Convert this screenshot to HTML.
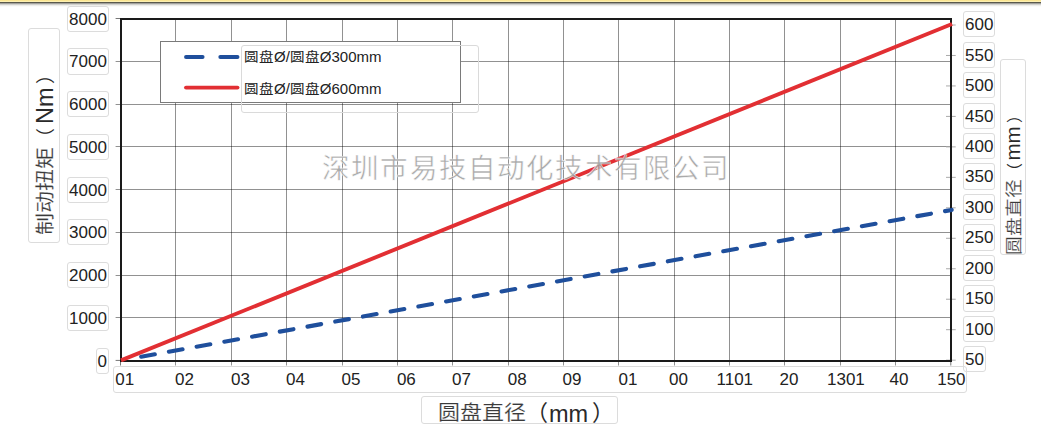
<!DOCTYPE html>
<html lang="zh-CN">
<head>
<meta charset="utf-8">
<style>
html,body{margin:0;padding:0;}
body{width:1041px;height:432px;overflow:hidden;position:relative;background:#fff;font-family:"Liberation Sans",sans-serif;color:#222;}
.topbar{position:absolute;left:0;top:0;width:1041px;height:7px;
background:linear-gradient(to bottom,#fbe38c 0px,#fce896 1px,#fdf0b2 1px,#fdf0b2 2px,#5a594c 2px,#5a594c 3px,#a2a29e 3px,#a2a29e 4px,#d2d2ce 4px,#d2d2ce 5px,#eeeeeb 5px,#eeeeeb 6px,#fbfbfa 6px,#fbfbfa 7px);}
.box{position:absolute;box-sizing:border-box;border:1px solid #dcdcdc;border-radius:3px;}
.lbl{position:absolute;box-sizing:border-box;border:1px solid #dcdcdc;border-radius:3px;height:26.2px;font-size:17px;line-height:25.4px;text-align:center;color:#222;padding:0 0.8px;white-space:nowrap;}
.xt{position:absolute;top:367.3px;font-size:17px;line-height:26px;color:#222;white-space:nowrap;}
svg{position:absolute;left:0;top:0;}
.rot{position:absolute;transform-origin:0 0;transform:rotate(-90deg);white-space:nowrap;}
.wm{position:absolute;white-space:nowrap;}
.cj{-webkit-text-stroke:0.25px rgba(255,255,255,0.8);color:#3a3a3a;}
.cs{display:inline-block;transform:scale(0.97,0.87);transform-origin:30% 55%;}
.legend{position:absolute;left:160px;top:41px;width:301px;height:61.6px;box-sizing:border-box;border:1px solid #7a7a7a;background:#fff;}
.ltxt{position:absolute;left:244px;font-size:15px;line-height:18px;color:#222;white-space:nowrap;}
</style>
</head>
<body>
<div class="topbar"></div>

<svg width="1041" height="432" viewBox="0 0 1041 432">
<g stroke="#000" stroke-opacity="0.43" stroke-width="1">
<line x1="175.5" y1="20" x2="175.5" y2="365.5"/>
<line x1="231.5" y1="20" x2="231.5" y2="365.5"/>
<line x1="286.5" y1="20" x2="286.5" y2="365.5"/>
<line x1="342.5" y1="20" x2="342.5" y2="365.5"/>
<line x1="397.5" y1="20" x2="397.5" y2="365.5"/>
<line x1="452.5" y1="20" x2="452.5" y2="365.5"/>
<line x1="508.5" y1="20" x2="508.5" y2="365.5"/>
<line x1="563.5" y1="20" x2="563.5" y2="365.5"/>
<line x1="618.5" y1="20" x2="618.5" y2="365.5"/>
<line x1="674.5" y1="20" x2="674.5" y2="365.5"/>
<line x1="729.5" y1="20" x2="729.5" y2="365.5"/>
<line x1="784.5" y1="20" x2="784.5" y2="365.5"/>
<line x1="840.5" y1="20" x2="840.5" y2="365.5"/>
<line x1="895.5" y1="20" x2="895.5" y2="365.5"/>
</g>
<g stroke="#000" stroke-opacity="0.43" stroke-width="1">
<line x1="115.6" y1="61.5" x2="950" y2="61.5"/>
<line x1="115.6" y1="104.5" x2="950" y2="104.5"/>
<line x1="115.6" y1="146.5" x2="950" y2="146.5"/>
<line x1="115.6" y1="189.5" x2="950" y2="189.5"/>
<line x1="115.6" y1="232.5" x2="950" y2="232.5"/>
<line x1="115.6" y1="275.5" x2="950" y2="275.5"/>
<line x1="115.6" y1="317.5" x2="950" y2="317.5"/>
</g>
<g stroke="#777" stroke-width="1">
<line x1="115.6" y1="18.5" x2="120" y2="18.5"/>
<line x1="115.6" y1="360.42" x2="120" y2="360.42"/>
<line x1="120.5" y1="361" x2="120.5" y2="365.5"/>
<line x1="950.8" y1="361" x2="950.8" y2="365.5"/>
</g>
<g stroke="#aaa" stroke-width="1">
<line x1="946" y1="25" x2="955.7" y2="25"/>
<line x1="946" y1="55.47" x2="955.7" y2="55.47"/>
<line x1="946" y1="85.94" x2="955.7" y2="85.94"/>
<line x1="946" y1="116.41" x2="955.7" y2="116.41"/>
<line x1="946" y1="146.88" x2="955.7" y2="146.88"/>
<line x1="946" y1="177.35" x2="955.7" y2="177.35"/>
<line x1="946" y1="207.82" x2="955.7" y2="207.82"/>
<line x1="946" y1="238.29" x2="955.7" y2="238.29"/>
<line x1="946" y1="268.76" x2="955.7" y2="268.76"/>
<line x1="946" y1="299.23" x2="955.7" y2="299.23"/>
<line x1="946" y1="329.7" x2="955.7" y2="329.7"/>
<line x1="946" y1="360.17" x2="955.7" y2="360.17"/>
</g>
<rect x="121" y="19" width="830" height="342" fill="none" stroke="#1a1a1a" stroke-width="2"/>
<line x1="130.84" y1="358.62" x2="951.7" y2="209.9" stroke="#1f4f9c" stroke-width="4.1" stroke-linecap="round" stroke-dasharray="13.9 14.27" stroke-dashoffset="17.67"/>
<line x1="121" y1="360.4" x2="952" y2="24" stroke="#e22f33" stroke-width="3.9"/>
</svg>
<div id="wm" class="wm" style="left:322px;top:152.3px;font-size:27.5px;line-height:34px;letter-spacing:2.17px;color:#9c9c9c;-webkit-text-stroke:0.6px rgba(255,255,255,0.9);opacity:0.85;">深圳市易技自动化技术有限公司</div>
<div class="legend"></div>
<svg width="1041" height="432" viewBox="0 0 1041 432">
<line x1="186" y1="57" x2="202.6" y2="57" stroke="#1f4f9c" stroke-width="3.9" stroke-linecap="round"/>
<line x1="220.3" y1="57" x2="237.5" y2="57" stroke="#1f4f9c" stroke-width="3.9" stroke-linecap="round"/>
<line x1="186" y1="87.6" x2="237.5" y2="87.6" stroke="#e22f33" stroke-width="3.9" stroke-linecap="round"/>
</svg>
<div class="box" style="left:241px;top:44.5px;width:237.8px;height:68.3px;border-color:#dadada;"></div>
<div id="lt1" class="ltxt" style="top:47.5px;"><span class="cs">圆盘</span>Ø/<span class="cs">圆盘</span>Ø300mm</div>
<div id="lt2" class="ltxt" style="top:80.3px;"><span class="cs">圆盘</span>Ø/<span class="cs">圆盘</span>Ø600mm</div>
<div class="lbl" style="right:932.3px;top:5.6px;">8000</div>
<div class="lbl" style="right:932.3px;top:48.34px;">7000</div>
<div class="lbl" style="right:932.3px;top:91.08px;">6000</div>
<div class="lbl" style="right:932.3px;top:133.82px;">5000</div>
<div class="lbl" style="right:932.3px;top:176.56px;">4000</div>
<div class="lbl" style="right:932.3px;top:219.3px;">3000</div>
<div class="lbl" style="right:932.3px;top:262.04px;">2000</div>
<div class="lbl" style="right:932.3px;top:304.78px;">1000</div>
<div class="lbl" style="right:932.3px;top:347.52px;">0</div>
<div class="lbl" style="left:963.3px;top:11.1px;">600</div>
<div class="lbl" style="left:963.3px;top:41.57px;">550</div>
<div class="lbl" style="left:963.3px;top:72.04px;">500</div>
<div class="lbl" style="left:963.3px;top:102.51px;">450</div>
<div class="lbl" style="left:963.3px;top:132.98px;">400</div>
<div class="lbl" style="left:963.3px;top:163.45px;">350</div>
<div class="lbl" style="left:963.3px;top:193.92px;">300</div>
<div class="lbl" style="left:963.3px;top:224.39px;">250</div>
<div class="lbl" style="left:963.3px;top:254.86px;">200</div>
<div class="lbl" style="left:963.3px;top:285.33px;">150</div>
<div class="lbl" style="left:963.3px;top:315.8px;">100</div>
<div class="lbl" style="left:963.3px;top:346.27px;">50</div>
<div class="box" style="left:113px;top:366.3px;width:853.8px;height:26.5px;"></div>
<div class="xt" style="left:115.25px;">01</div>
<div class="xt" style="left:175.1px;">02</div>
<div class="xt" style="left:231px;">03</div>
<div class="xt" style="left:286px;">04</div>
<div class="xt" style="left:341.5px;">05</div>
<div class="xt" style="left:396.9px;">06</div>
<div class="xt" style="left:452px;">07</div>
<div class="xt" style="left:507.8px;">08</div>
<div class="xt" style="left:562.6px;">09</div>
<div class="xt" style="left:618.5px;">01</div>
<div class="xt" style="left:669px;">00</div>
<div class="xt" style="left:716.5px;">1101</div>
<div class="xt" style="left:779.5px;">20</div>
<div class="xt" style="left:827px;">1301</div>
<div class="xt" style="left:889.5px;">40</div>
<div class="xt" style="left:937.2px;">150</div>
<div class="box" style="left:28px;top:27.5px;width:31.5px;height:215.5px;"></div>
<div id="ytl" class="rot" style="left:34px;top:235px;font-size:22px;line-height:22px;color:#2a2a2a;"><span class="cj" style="display:inline-block;transform:scaleY(0.9)">制动扭矩</span><span style="font-size:19px;margin-left:0px">（</span><span style="font-size:23.5px;margin-left:4px">Nm</span><span style="font-size:19px;margin-left:3px">）</span></div>
<div class="box" style="left:1000.3px;top:58.5px;width:26.2px;height:196.3px;"></div>
<div id="ytr" class="rot" style="left:1004px;top:255.2px;font-size:18.8px;line-height:18px;color:#2a2a2a;"><span class="cj" style="display:inline-block;transform:scaleY(0.92)">圆盘直径</span><span style="font-size:16px;">（</span><span style="font-size:20.5px;margin-left:2.4px">mm</span><span style="font-size:16px;margin-left:3.5px">）</span></div>
<div class="box" style="left:420.5px;top:396.3px;width:197px;height:27.4px;"></div>
<div id="xtt" style="position:absolute;left:438px;top:400px;font-size:22px;line-height:24px;color:#2a2a2a;white-space:nowrap;"><span class="cj" style="display:inline-block;transform:scaleY(0.92);transform-origin:50% 80%">圆盘直径</span><span>（</span><span style="font-size:23.5px;margin-left:1px;position:relative;top:1.5px">mm</span><span style="margin-left:4px">）</span></div>
</body>
</html>
